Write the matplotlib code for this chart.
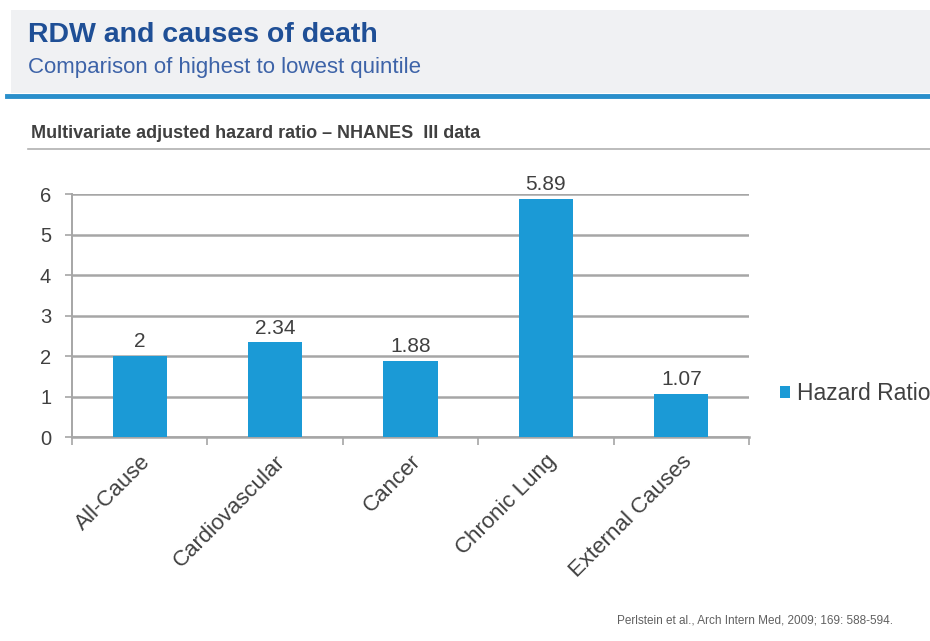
import matplotlib.pyplot as plt
import numpy as np

## data
categories = ["All-Cause", "Cardiovascular", "Cancer", "Chronic Lung", "External Causes"]
hazard_ratio = [2, 2.34, 1.88, 5.89, 1.07]
value_labels = ["2", "2.34", "1.88", "5.89", "1.07"]
yticks = [0, 1, 2, 3, 4, 5, 6]

bar_color = "#1b9ad6"
grid_color = "#a6a6a6"
text_color = "#404040"

plt.rcParams["font.family"] = ["Liberation Sans", "DejaVu Sans"]

fig = plt.figure(figsize=(9.3, 6.41), dpi=100)
fig.patch.set_facecolor("white")

## header band
fig.patches.append(plt.Rectangle((0.012, 0.855), 0.988, 0.13, transform=fig.transFigure,
                                 facecolor="#f0f1f3", edgecolor="none", zorder=0))
fig.add_artist(plt.Line2D([0.008, 1.0], [0.851, 0.851], color="#2a8fcb", lw=3.5))
fig.text(0.03, 0.945, "RDW and causes of death", fontsize=20.5, fontweight="bold",
         color="#1f4f96", va="center")
fig.text(0.03, 0.895, "Comparison of highest to lowest quintile", fontsize=16,
         color="#3d63a8", va="center")

## chart subtitle
fig.text(0.033, 0.792, "Multivariate adjusted hazard ratio \u2013 NHANES  III data",
         fontsize=13, fontweight="bold", color=text_color, va="center")
fig.add_artist(plt.Line2D([0.03, 1.0], [0.768, 0.768], color="#b0b0b0", lw=1.2))

## bar chart
ax = fig.add_axes([0.0774, 0.318, 0.728, 0.379])
x = np.arange(len(categories))
ax.bar(x, hazard_ratio, width=0.4, color=bar_color, zorder=3, label="Hazard Ratio")
for xi, v, lab in zip(x, hazard_ratio, value_labels):
    ax.text(xi, v + 0.12, lab, ha="center", va="bottom", fontsize=15, color=text_color)

ax.set_xlim(-0.5, len(categories) - 0.5)
ax.set_ylim(0, 6)
ax.set_yticks(yticks)
ax.tick_params(axis="y", labelsize=14.5, colors=text_color, length=5, width=1.2, pad=10)
ax.yaxis.grid(True, color=grid_color, lw=1.8, zorder=0)
ax.set_axisbelow(True)

ax.set_xticks(x)
ax.set_xticklabels(categories, rotation=45, ha="right", rotation_mode="anchor",
                   fontsize=16, color=text_color)
ax.tick_params(axis="x", length=0, pad=10)
ax.set_xticks(np.arange(len(categories) + 1) - 0.5, minor=True)
ax.tick_params(axis="x", which="minor", length=6, width=1.2, color=grid_color)

for s in ["top", "right"]:
    ax.spines[s].set_visible(False)
ax.spines["left"].set_color(grid_color)
ax.spines["bottom"].set_color(grid_color)
ax.spines["left"].set_linewidth(1.4)
ax.spines["bottom"].set_linewidth(1.8)
ax.tick_params(axis="y", color=grid_color)

ax.legend(loc="center left", bbox_to_anchor=(1.015, 0.18), frameon=False, fontsize=16.5,
          handlelength=0.45, handleheight=0.45, handletextpad=0.3, labelcolor=text_color)

## citation
fig.text(0.96, 0.032, "Perlstein et al., Arch Intern Med, 2009; 169: 588-594.",
         fontsize=8.5, color="#606060", ha="right", va="center")

fig.savefig("out.png", dpi=100)
